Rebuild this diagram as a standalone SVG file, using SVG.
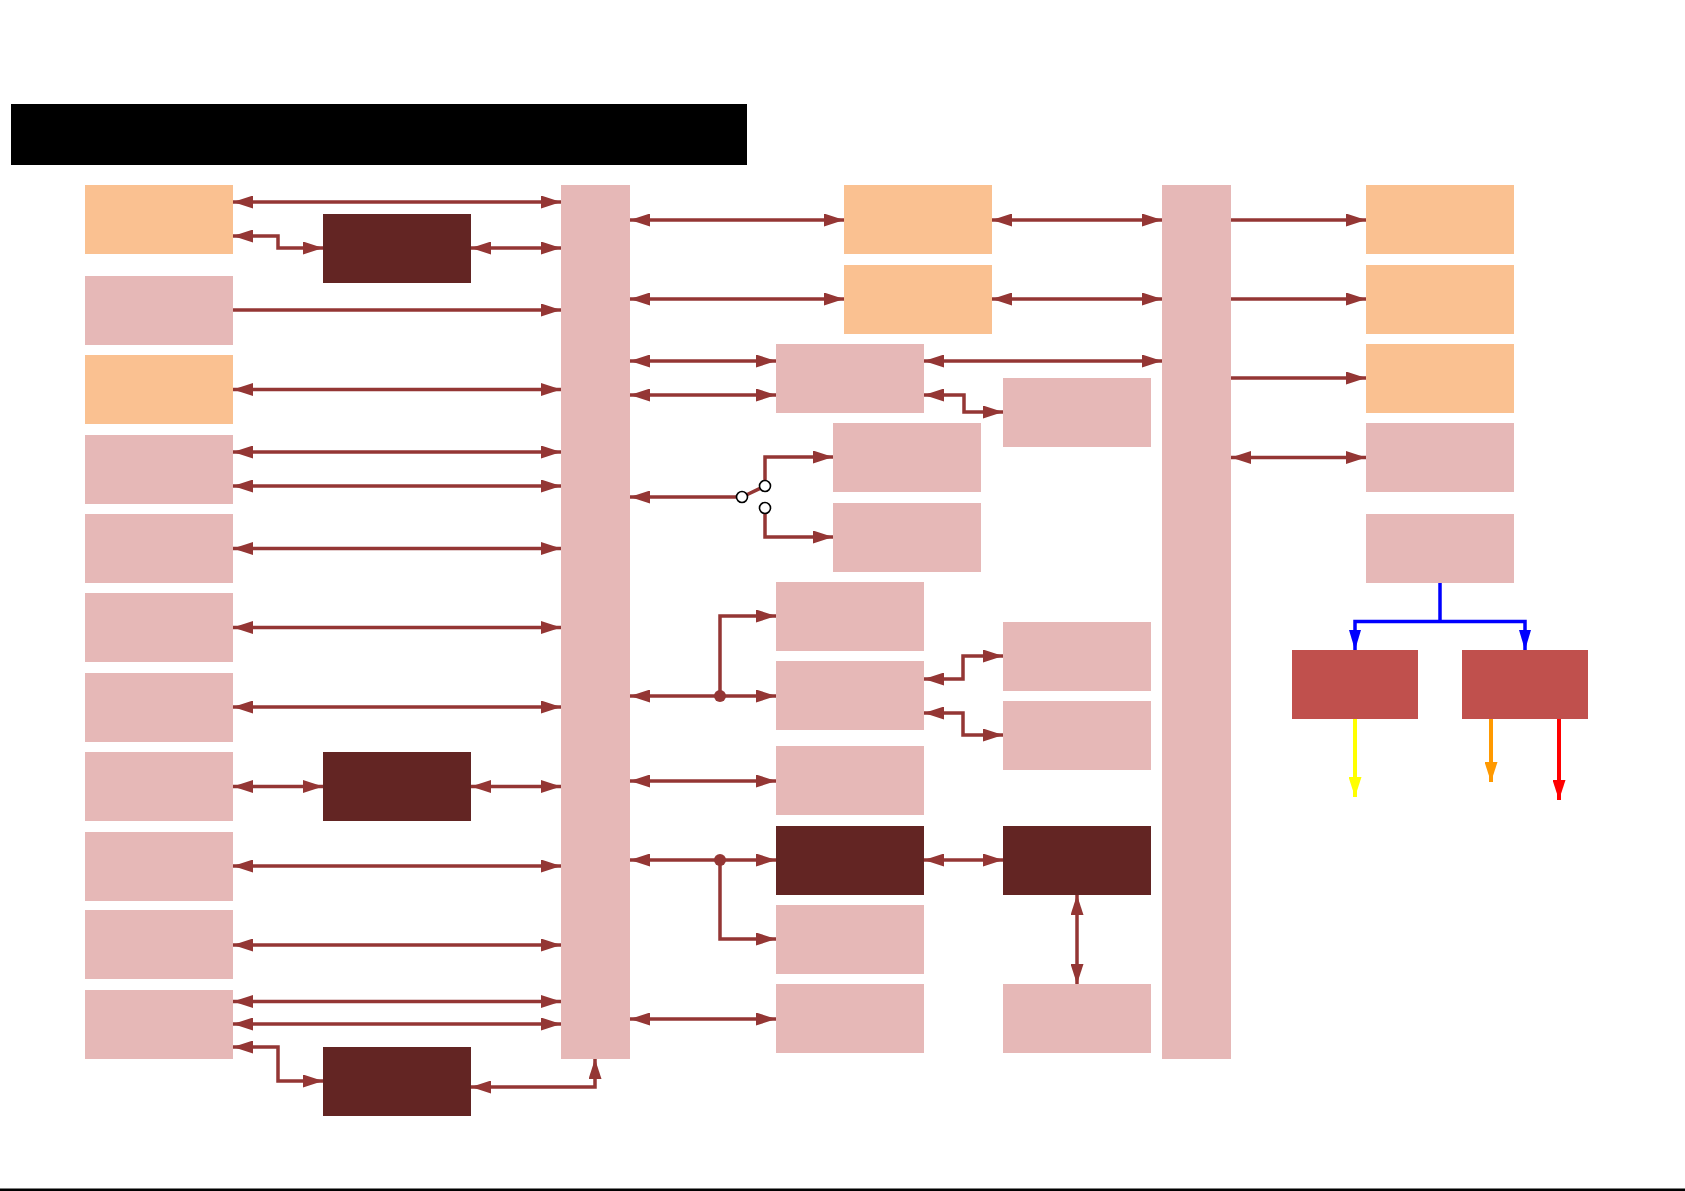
<svg xmlns="http://www.w3.org/2000/svg" width="1685" height="1191" viewBox="0 0 1685 1191">
<style>
.pk{fill:#E6B8B7}
.or{fill:#FAC191}
.dk{fill:#632523}
.rd{fill:#C0504D}
.c{fill:none;stroke:#943634;stroke-width:3.5}
.b{marker-start:url(#ah);marker-end:url(#ah)}
.e{marker-end:url(#ah)}
</style>
<defs>
<marker id="ah" markerUnits="userSpaceOnUse" markerWidth="20" markerHeight="13" refX="20" refY="6.5" orient="auto-start-reverse" viewBox="0 0 20 13"><path d="M0,0 L20,6.5 L0,13 z" fill="#943634"/></marker>
<marker id="ab" markerUnits="userSpaceOnUse" markerWidth="20" markerHeight="12" refX="20" refY="6" orient="auto-start-reverse" viewBox="0 0 20 12"><path d="M0,0 L20,6 L0,12 z" fill="#0000FF"/></marker>
<marker id="ay" markerUnits="userSpaceOnUse" markerWidth="20" markerHeight="13" refX="20" refY="6.5" orient="auto" viewBox="0 0 20 13"><path d="M0,0 L20,6.5 L0,13 z" fill="#FFFF00"/></marker>
<marker id="ao" markerUnits="userSpaceOnUse" markerWidth="20" markerHeight="13" refX="20" refY="6.5" orient="auto" viewBox="0 0 20 13"><path d="M0,0 L20,6.5 L0,13 z" fill="#FF9900"/></marker>
<marker id="ar" markerUnits="userSpaceOnUse" markerWidth="20" markerHeight="13" refX="20" refY="6.5" orient="auto" viewBox="0 0 20 13"><path d="M0,0 L20,6.5 L0,13 z" fill="#FF0000"/></marker>
</defs>
<rect width="1685" height="1191" fill="#FFFFFF"/>
<rect id="title" x="11" y="104" width="736" height="61" fill="#000000"/>
<rect id="bottom-line" x="0" y="1188.5" width="1685" height="2.5" fill="#000000"/>

<g id="L1"><rect class="or" x="85" y="185" width="148" height="69"/></g>
<g id="L2"><rect class="pk" x="85" y="276" width="148" height="69"/></g>
<g id="L3"><rect class="or" x="85" y="355" width="148" height="69"/></g>
<g id="L4"><rect class="pk" x="85" y="435" width="148" height="69"/></g>
<g id="L5"><rect class="pk" x="85" y="514" width="148" height="69"/></g>
<g id="L6"><rect class="pk" x="85" y="593" width="148" height="69"/></g>
<g id="L7"><rect class="pk" x="85" y="673" width="148" height="69"/></g>
<g id="L8"><rect class="pk" x="85" y="752" width="148" height="69"/></g>
<g id="L9"><rect class="pk" x="85" y="832" width="148" height="69"/></g>
<g id="L10"><rect class="pk" x="85" y="910" width="148" height="69"/></g>
<g id="L11"><rect class="pk" x="85" y="990" width="148" height="69"/></g>

<g id="D1"><rect class="dk" x="323" y="214" width="148" height="69"/></g>
<g id="D2"><rect class="dk" x="323" y="752" width="148" height="69"/></g>
<g id="D3"><rect class="dk" x="323" y="1047" width="148" height="69"/></g>

<g id="bus1"><rect class="pk" x="561" y="185" width="69" height="874"/></g>
<g id="bus2"><rect class="pk" x="1162" y="185" width="69" height="874"/></g>

<g id="A"><rect class="or" x="844" y="185" width="148" height="69"/></g>
<g id="B"><rect class="or" x="844" y="265" width="148" height="69"/></g>
<g id="C"><rect class="pk" x="776" y="344" width="148" height="69"/></g>
<g id="D"><rect class="pk" x="1003" y="378" width="148" height="69"/></g>
<g id="E"><rect class="pk" x="833" y="423" width="148" height="69"/></g>
<g id="F"><rect class="pk" x="833" y="503" width="148" height="69"/></g>
<g id="G"><rect class="pk" x="776" y="582" width="148" height="69"/></g>
<g id="H"><rect class="pk" x="776" y="661" width="148" height="69"/></g>
<g id="I"><rect class="pk" x="1003" y="622" width="148" height="69"/></g>
<g id="J"><rect class="pk" x="1003" y="701" width="148" height="69"/></g>
<g id="K"><rect class="pk" x="776" y="746" width="148" height="69"/></g>
<g id="L"><rect class="dk" x="776" y="826" width="148" height="69"/></g>
<g id="M"><rect class="dk" x="1003" y="826" width="148" height="69"/></g>
<g id="N"><rect class="pk" x="776" y="905" width="148" height="69"/></g>
<g id="O"><rect class="pk" x="776" y="984" width="148" height="69"/></g>
<g id="P"><rect class="pk" x="1003" y="984" width="148" height="69"/></g>

<g id="R1"><rect class="or" x="1366" y="185" width="148" height="69"/></g>
<g id="R2"><rect class="or" x="1366" y="265" width="148" height="69"/></g>
<g id="R3"><rect class="or" x="1366" y="344" width="148" height="69"/></g>
<g id="R4"><rect class="pk" x="1366" y="423" width="148" height="69"/></g>
<g id="R5"><rect class="pk" x="1366" y="514" width="148" height="69"/></g>
<g id="S1"><rect class="rd" x="1292" y="650" width="126" height="69"/></g>
<g id="S2"><rect class="rd" x="1462" y="650" width="126" height="69"/></g>

<g id="connectors">
<path class="c b" d="M233,202 H561"/>
<path class="c b" d="M233,236 H278 V248 H323"/>
<path class="c b" d="M471,248 H561"/>
<path class="c e" d="M233,310 H561"/>
<path class="c b" d="M233,389.5 H561"/>
<path class="c b" d="M233,452 H561"/>
<path class="c b" d="M233,486 H561"/>
<path class="c b" d="M233,548.5 H561"/>
<path class="c b" d="M233,627.5 H561"/>
<path class="c b" d="M233,707 H561"/>
<path class="c b" d="M233,786.5 H323"/>
<path class="c b" d="M471,786.5 H561"/>
<path class="c b" d="M233,866 H561"/>
<path class="c b" d="M233,945 H561"/>
<path class="c b" d="M233,1001.5 H561"/>
<path class="c b" d="M233,1024 H561"/>
<path class="c b" d="M233,1047 H278 V1081 H323"/>
<path class="c b" d="M471,1087 H595 V1059"/>

<path class="c b" d="M630,220 H844"/>
<path class="c b" d="M992,220 H1162"/>
<path class="c b" d="M630,299 H844"/>
<path class="c b" d="M992,299 H1162"/>
<path class="c b" d="M630,361 H776"/>
<path class="c b" d="M924,361 H1162"/>
<path class="c b" d="M630,395 H776"/>
<path class="c b" d="M924,395 H964 V412 H1003"/>

<path class="c e" d="M736.5,497 H630"/>
<path class="c" d="M742,497 L765,486"/>
<path class="c e" d="M765,480.5 V457 H833"/>
<path class="c e" d="M765,513.5 V537 H833"/>
<circle cx="742" cy="497" r="5.5" fill="#FFFFFF" stroke="#000000" stroke-width="1.6"/>
<circle cx="765" cy="486" r="5.5" fill="#FFFFFF" stroke="#000000" stroke-width="1.6"/>
<circle cx="765" cy="508" r="5.5" fill="#FFFFFF" stroke="#000000" stroke-width="1.6"/>

<path class="c b" d="M630,696 H776"/>
<path class="c e" d="M720,696 V616 H776"/>
<circle cx="720" cy="696" r="6" fill="#943634"/>
<path class="c b" d="M924,679 H963 V656 H1003"/>
<path class="c b" d="M924,713 H963 V735 H1003"/>
<path class="c b" d="M630,781 H776"/>
<path class="c b" d="M630,860 H776"/>
<path class="c e" d="M720,860 V939 H776"/>
<circle cx="720" cy="860" r="6" fill="#943634"/>
<path class="c b" d="M924,860 H1003"/>
<path class="c b" d="M1077,895 V984"/>
<path class="c b" d="M630,1019 H776"/>

<path class="c e" d="M1231,220 H1366"/>
<path class="c e" d="M1231,299 H1366"/>
<path class="c e" d="M1231,378 H1366"/>
<path class="c b" d="M1231,457.5 H1366"/>

<path d="M1440,583 V621.5" fill="none" stroke="#0000FF" stroke-width="3.5"/>
<path d="M1355,650 V621.5 H1525 V650" fill="none" stroke="#0000FF" stroke-width="3.5" marker-start="url(#ab)" marker-end="url(#ab)"/>
<path d="M1355,719 V797" fill="none" stroke="#FFFF00" stroke-width="4" marker-end="url(#ay)"/>
<path d="M1491,719 V782" fill="none" stroke="#FF9900" stroke-width="4" marker-end="url(#ao)"/>
<path d="M1559,719 V800" fill="none" stroke="#FF0000" stroke-width="4" marker-end="url(#ar)"/>
</g>
</svg>
